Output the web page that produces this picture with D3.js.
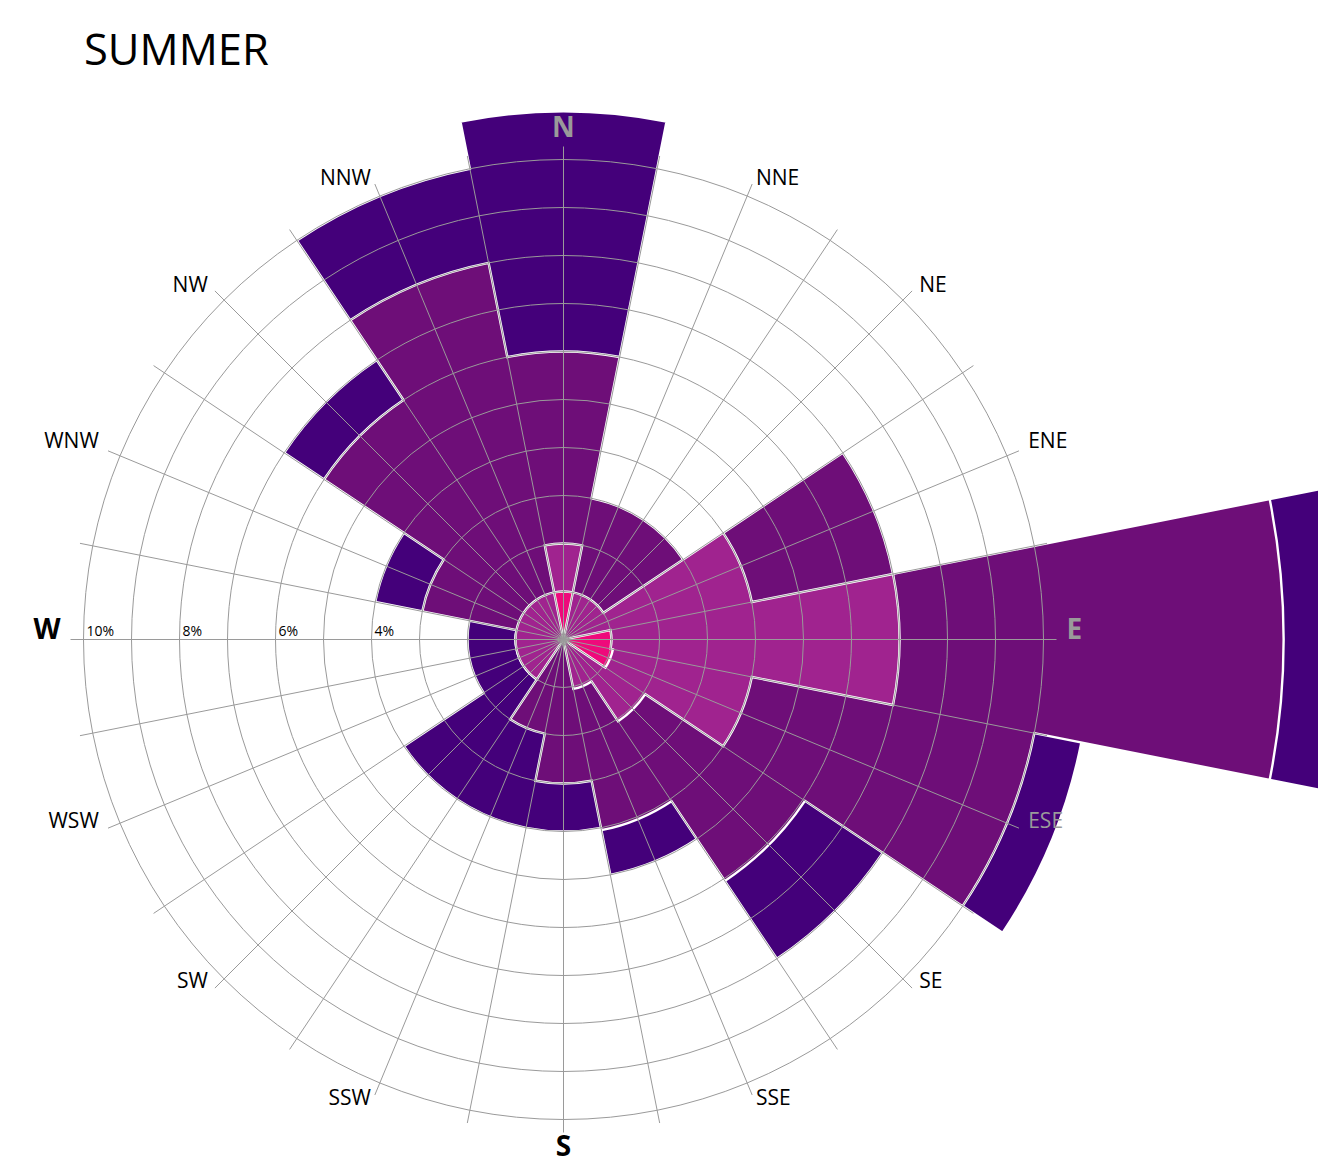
<!DOCTYPE html>
<html>
<head>
<meta charset="utf-8">
<title>Summer wind rose</title>
<script src="https://cdn.jsdelivr.net/npm/d3@7"></script>
<style>
  html, body { margin: 0; padding: 0; background: #fff; overflow: hidden; }
  svg { display: block; }
  text { font-family: "Open Sans", "Noto Sans", sans-serif; }
</style>
</head>
<body>
<svg id="chart" width="1318" height="1164"></svg>
<script>
// Wind directions, clockwise from north
const directions = ["N", "NNE", "NE", "ENE", "E", "ESE", "SE", "SSE",
                    "S", "SSW", "SW", "WSW", "W", "WNW", "NW", "NNW"];

// Frequency (% of summer hours) per direction, one array per wind-speed band
const lightWind    = [1.0, 0,   0,   0,   1.0, 1.05, 0,    0,    0,   0,   0,   0,   0,   0,   0,   0];
const gentleWind   = [1.0, 1.0, 1.0, 4.0, 6.0, 2.95, 2.05, 1.05, 0,   0,   1.0, 1.0, 1.0, 1.0, 1.0, 1.0];
const moderateWind = [4.0, 2.0, 2.0, 3.0, 8.0, 6.0,  4.0,  3.0,  3.0, 2.0, 0,   0,   0,   2.0, 5.0, 7.0];
const strongWind   = [5.0, 0,   0,   0,   1.5, 1.0,  1.95, 0.95, 1.0, 2.0, 3.0, 1.0, 1.0, 1.0, 1.0, 2.0];

// Grid rings (percent) and the rings that carry a label
const ringValues = [1, 2, 3, 4, 5, 6, 7, 8, 9, 10];
const ringTickValues = [4, 6, 8, 10];

const title = "SUMMER";

// ---- layout ----
const cx = 563.5, cy = 639.5;
const spokeLength = 493;
const labelRadius = 503;
const height = 1164;

const svg = d3.select("#chart");

const radius = d3.scaleLinear().domain([0, 10]).range([0, 480]);

const bandKeys = ["light", "gentle", "moderate", "strong"];
const rows = directions.map((dir, i) => ({
  dir,
  light: lightWind[i],
  gentle: gentleWind[i],
  moderate: moderateWind[i],
  strong: strongWind[i]
}));

const stacked = d3.stack().keys(bandKeys)(rows);

const color = d3.scaleOrdinal()
  .domain(bandKeys)
  .range(["#ee0a7b", "#a0238f", "#6e0e78", "#44007a"]);

const sector = 2 * Math.PI / directions.length;

// One closed outline per speed band: a step of arcs around the centre
function bandPath(series) {
  const p = d3.path();
  series.forEach((d, i) => {
    const rr = radius(d[1]);
    const a0 = i * sector - sector / 2 - Math.PI / 2;
    p.arc(cx, cy, rr, a0, a0 + sector);
  });
  p.closePath();
  return p.toString();
}

// Bands: outermost cumulative band first, inner bands painted over it
svg.append("g")
  .attr("class", "bands")
  .selectAll("path")
  .data(stacked.slice().reverse())
  .join("path")
  .attr("d", bandPath)
  .attr("fill", s => color(s.key))
  .attr("stroke", "#fff")
  .attr("stroke-width", 2.4)
  .attr("stroke-linejoin", "miter");

// Grid drawn over the bands
const grid = svg.append("g").attr("class", "grid")
  .attr("fill", "none").attr("stroke", "#9a9a9a").attr("stroke-width", 1);

grid.selectAll("circle")
  .data(ringValues)
  .join("circle")
  .attr("cx", cx).attr("cy", cy)
  .attr("r", d => radius(d));

grid.selectAll("line")
  .data(d3.range(32).map(k => k * Math.PI / 16))
  .join("line")
  .attr("x1", cx).attr("y1", cy)
  .attr("x2", a => cx + spokeLength * Math.sin(a))
  .attr("y2", a => cy - spokeLength * Math.cos(a));

// Percentage labels along the west axis
svg.append("g")
  .selectAll("text")
  .data(ringTickValues)
  .join("text")
  .attr("x", d => cx - radius(d) + 3)
  .attr("y", cy - 4)
  .attr("font-size", 14)
  .attr("fill", "#000")
  .text(d => d + "%");

// Direction labels, grey where the bar runs underneath them
const totals = rows.map(r => bandKeys.reduce((s, k) => s + r[k], 0));

svg.append("g").selectAll("text")
  .data(directions.map((dir, i) => ({ dir, i, theta: i * sector })))
  .join("text")
  .each(function (d) {
    const cardinal = d.i % 4 === 0;
    const size = cardinal ? 28 : 21;
    const capH = 0.714 * size;
    const s = Math.sin(d.theta), c = Math.cos(d.theta);
    const ax = cx + labelRadius * s;
    const ay = cy - labelRadius * c;
    let anchor = "middle";
    if (s > 0.01) anchor = "start";
    else if (s < -0.01) anchor = "end";
    let baseline;
    if (c > 0.99) baseline = ay;                    // north: sits above the spoke
    else if (c < -0.99) baseline = Math.min(ay + capH - 0.5, height - 0.27 * size); // south: below the spoke, kept on the page
    else {
      const diag = Math.pow(Math.sin(2 * d.theta), 4);
      baseline = ay + capH / 2 - 10 * s * s + 3 * c + diag * (c > 0 ? 4 : -8);
    }
    const covered = radius(totals[d.i]) > labelRadius - 3;
    d3.select(this)
      .attr("x", ax)
      .attr("y", baseline)
      .attr("text-anchor", anchor)
      .attr("font-size", size)
      .attr("font-weight", cardinal ? 700 : 400)
      .attr("fill", covered ? "#9a9a9a" : "#000")
      .text(d.dir);
  });

// Title
svg.append("text")
  .attr("x", 84)
  .attr("y", 65)
  .attr("font-size", 43.5)
  .attr("fill", "#000")
  .text(title);
</script>
</body>
</html>
